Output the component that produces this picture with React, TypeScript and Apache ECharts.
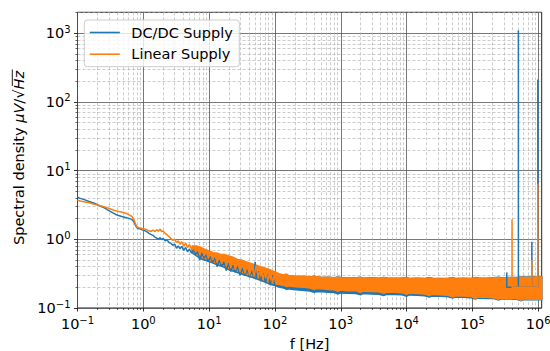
import React, { useEffect, useRef } from "react";
import * as echarts from "echarts";

const BLUE = "#1f77b4";
const ORANGE = "#ff7f0e";
const SERIES_NAMES = ["DC/DC Supply", "Linear Supply"];
const X_LABEL = "f [Hz]";

const X_MIN = 0.1;
const X_MAX = 1.13e6;
const Y_MIN = 0.1;
const Y_MAX = 2020;
const X_MAJOR = [0.1, 1, 10, 100, 1e3, 1e4, 1e5, 1e6];
const Y_MAJOR = [0.1, 1, 10, 100, 1000];

// Low-frequency part of the spectra [f, value]
const BLUE_LF: [number, number][] = [
  [0.1, 4.1], [0.11, 3.95], [0.13, 3.75], [0.15, 3.55], [0.18, 3.35], [0.2, 3.2],
  [0.23, 3.0], [0.26, 2.85], [0.3, 2.62], [0.34, 2.45], [0.38, 2.3], [0.42, 2.22],
  [0.47, 2.15], [0.52, 2.1], [0.57, 2.05], [0.62, 2.0], [0.67, 1.95], [0.72, 1.8],
  [0.76, 1.6], [0.8, 1.47], [0.85, 1.43], [0.9, 1.42], [0.95, 1.38], [1.0, 1.36],
  [1.07, 1.33], [1.14, 1.28], [1.22, 1.22], [1.3, 1.18], [1.4, 1.14], [1.5, 1.08],
  [1.6, 1.04], [1.7, 1.0], [1.8, 1.06], [1.9, 0.99], [2.0, 1.03], [2.15, 0.95],
  [2.3, 0.98], [2.45, 0.9], [2.6, 0.88], [2.8, 0.82], [3.0, 0.85], [3.2, 0.74],
  [3.4, 0.8], [3.6, 0.73], [3.85, 0.79], [4.1, 0.69], [4.4, 0.76], [4.7, 0.66],
  [5.0, 0.72], [5.4, 0.63], [5.8, 0.7], [6.2, 0.6], [6.7, 0.66], [7.2, 0.5],
  [7.8, 0.63], [8.4, 0.53], [9.0, 0.6], [9.7, 0.47], [10.5, 0.56], [11.3, 0.46],
  [12.2, 0.54], [13.2, 0.4], [14.3, 0.5], [15.5, 0.4], [16.8, 0.47], [18.2, 0.35],
  [19.7, 0.45], [21.3, 0.34], [23, 0.42], [25, 0.33], [27, 0.41], [29.5, 0.3],
  [32, 0.38], [35, 0.295], [38, 0.36], [41, 0.28], [44.5, 0.35], [48, 0.27],
  [50, 0.47], [52, 0.275], [56, 0.34], [61, 0.245], [66, 0.32], [72, 0.235],
  [78, 0.31], [85, 0.215], [92, 0.3], [100, 0.21],
];

const ORANGE_LF: [number, number][] = [
  [0.1, 3.7], [0.11, 3.62], [0.13, 3.5], [0.15, 3.4], [0.18, 3.25], [0.2, 3.15],
  [0.23, 3.05], [0.26, 2.95], [0.3, 2.82], [0.34, 2.7], [0.38, 2.6], [0.42, 2.55],
  [0.47, 2.5], [0.52, 2.42], [0.57, 2.35], [0.62, 2.25], [0.67, 2.15], [0.72, 1.95],
  [0.76, 1.68], [0.8, 1.52], [0.85, 1.48], [0.9, 1.46], [0.95, 1.44], [1.0, 1.42],
  [1.07, 1.41], [1.14, 1.37], [1.22, 1.33], [1.3, 1.3], [1.4, 1.36], [1.5, 1.3],
  [1.6, 1.38], [1.7, 1.32], [1.8, 1.4], [1.9, 1.3], [2.0, 1.32], [2.15, 1.22],
  [2.3, 1.16], [2.45, 1.1], [2.6, 1.04], [2.8, 0.97], [3.0, 1.0], [3.2, 0.9],
  [3.4, 0.95], [3.6, 0.85], [3.85, 0.92], [4.1, 0.8], [4.4, 0.88], [4.7, 0.76],
  [5.0, 0.84], [5.4, 0.72], [5.8, 0.8], [6.2, 0.66], [6.7, 0.78], [7.2, 0.6],
  [7.8, 0.74], [8.4, 0.57], [9.0, 0.7], [9.7, 0.53], [10.5, 0.66], [11.3, 0.5],
  [12.2, 0.63], [13.2, 0.46], [14.3, 0.6], [15.5, 0.44], [16.8, 0.58], [18.2, 0.41],
  [19.7, 0.56], [21.3, 0.38], [23, 0.53], [25, 0.36], [27, 0.5], [29.5, 0.34],
  [32, 0.48], [35, 0.32], [38, 0.45], [41, 0.3], [44.5, 0.43], [48, 0.29],
  [52, 0.42], [56, 0.28], [61, 0.4], [66, 0.26], [72, 0.38], [78, 0.25],
  [85, 0.36], [92, 0.235], [100, 0.33],
];

// Noise band envelopes [f, low, high]
const BLUE_BAND: [number, number, number][] = [
  [5.5, 0.64, 0.74], [6.5, 0.57, 0.74], [7.5, 0.52, 0.72], [8.5, 0.5, 0.68],
  [10, 0.475, 0.64], [11.5, 0.45, 0.6], [13, 0.43, 0.59], [15, 0.41, 0.56],
  [17, 0.39, 0.56], [20, 0.36, 0.53], [23, 0.345, 0.51], [27, 0.328, 0.48],
  [31, 0.313, 0.47], [36, 0.3, 0.44], [42, 0.285, 0.42], [48, 0.275, 0.4],
  [56, 0.26, 0.38], [65, 0.247, 0.365], [75, 0.233, 0.35], [87, 0.22, 0.335],
  [100, 0.212, 0.32], [115, 0.202, 0.305], [135, 0.196, 0.298], [150, 0.186, 0.3],
  [160, 0.19, 0.294], [190, 0.186, 0.29], [230, 0.183, 0.287], [280, 0.18, 0.288],
  [340, 0.177, 0.283], [400, 0.168, 0.29], [420, 0.174, 0.285], [520, 0.172, 0.279],
  [650, 0.17, 0.281], [800, 0.168, 0.276], [900, 0.16, 0.282], [1000, 0.166, 0.278],
  [1300, 0.164, 0.273], [1700, 0.163, 0.276], [2000, 0.156, 0.28], [2200, 0.162, 0.272],
  [2900, 0.16, 0.275], [3800, 0.159, 0.271], [4500, 0.152, 0.278], [5000, 0.158, 0.274],
  [6500, 0.157, 0.27], [8500, 0.156, 0.273], [1.0e4, 0.149, 0.277], [1.1e4, 0.155, 0.269],
  [1.45e4, 0.153, 0.272], [1.9e4, 0.151, 0.268], [2.2e4, 0.145, 0.275], [2.5e4, 0.15, 0.271],
  [3.3e4, 0.148, 0.268], [4.3e4, 0.146, 0.271], [5e4, 0.14, 0.276], [5.6e4, 0.144, 0.268],
  [7.3e4, 0.143, 0.271], [9.5e4, 0.141, 0.269], [1.1e5, 0.135, 0.277], [1.25e5, 0.14, 0.273],
  [1.6e5, 0.138, 0.271], [2.1e5, 0.137, 0.276], [2.5e5, 0.131, 0.281], [2.8e5, 0.136, 0.274],
  [3.6e5, 0.135, 0.278], [4.7e5, 0.134, 0.277], [5.5e5, 0.128, 0.285], [6.1e5, 0.133, 0.282],
  [8e5, 0.132, 0.283], [1.0e6, 0.132, 0.287], [1.13e6, 0.133, 0.285],
];

const ORANGE_BAND: [number, number, number][] = [
  [5.5, 0.68, 0.8], [6.5, 0.6, 0.8], [7.5, 0.55, 0.76], [8.5, 0.53, 0.72],
  [10, 0.5, 0.68], [11.5, 0.47, 0.64], [13, 0.45, 0.63], [15, 0.43, 0.6],
  [17, 0.41, 0.6], [20, 0.38, 0.57], [23, 0.365, 0.55], [27, 0.345, 0.51],
  [31, 0.33, 0.5], [36, 0.315, 0.47], [42, 0.3, 0.45], [48, 0.29, 0.43],
  [56, 0.275, 0.41], [65, 0.26, 0.39], [75, 0.245, 0.375], [87, 0.232, 0.355],
  [100, 0.226, 0.335], [115, 0.22, 0.315], [135, 0.215, 0.303], [150, 0.206, 0.312],
  [160, 0.21, 0.298], [190, 0.206, 0.293], [230, 0.203, 0.288], [280, 0.2, 0.29],
  [340, 0.196, 0.283], [400, 0.186, 0.292], [420, 0.193, 0.284], [520, 0.19, 0.278],
  [650, 0.186, 0.28], [800, 0.184, 0.274], [900, 0.175, 0.281], [1000, 0.182, 0.276],
  [1300, 0.179, 0.271], [1700, 0.178, 0.274], [2000, 0.169, 0.279], [2200, 0.176, 0.27],
  [2900, 0.174, 0.273], [3800, 0.172, 0.269], [4500, 0.164, 0.277], [5000, 0.17, 0.272],
  [6500, 0.169, 0.268], [8500, 0.167, 0.271], [1.0e4, 0.159, 0.276], [1.1e4, 0.165, 0.267],
  [1.45e4, 0.162, 0.27], [1.9e4, 0.16, 0.266], [2.2e4, 0.152, 0.273], [2.5e4, 0.158, 0.269],
  [3.3e4, 0.156, 0.265], [4.3e4, 0.153, 0.268], [5e4, 0.145, 0.274], [5.6e4, 0.151, 0.265],
  [7.3e4, 0.149, 0.268], [9.5e4, 0.147, 0.266], [1.1e5, 0.139, 0.275], [1.25e5, 0.145, 0.27],
  [1.6e5, 0.143, 0.268], [2.1e5, 0.141, 0.273], [2.5e5, 0.134, 0.279], [2.8e5, 0.14, 0.271],
  [3.6e5, 0.138, 0.276], [4.7e5, 0.137, 0.274], [5.5e5, 0.13, 0.283], [6.1e5, 0.136, 0.279],
  [8e5, 0.134, 0.28], [1.0e6, 0.134, 0.284], [1.13e6, 0.135, 0.282],
];

// Narrow spikes [f, peak]
const SPIKE_BASE = 0.2;
const BLUE_SPIKES: [number, number][] = [[3.33e5, 0.33], [5e5, 1110], [8e5, 0.92], [9.86e5, 213]];
const ORANGE_SPIKES: [number, number][] = [[4e5, 1.95], [8e5, 0.5], [9.86e5, 6.5]];

const FONT = "DejaVu Sans";
const FS = 14.5;

function minorValues(maxDecade: number, limit: number) {
  const out: number[] = [];
  for (let d = -1; d <= maxDecade; d++) {
    for (let k = 2; k <= 9; k++) {
      const v = k * Math.pow(10, d);
      if (v <= limit) out.push(v);
    }
  }
  return out;
}
const X_MINOR = minorValues(6, X_MAX);
const Y_MINOR = minorValues(3, Y_MAX);

function spikeData(spikes: [number, number][]) {
  const d: [number, number][] = [];
  spikes.forEach(([f, p]) => {
    d.push([f, SPIKE_BASE], [f, p], [f, SPIKE_BASE]);
  });
  return d;
}

function supLabel(v: number) {
  const e = Math.log10(v);
  const r = Math.round(e);
  if (Math.abs(e - r) > 1e-6) return "";
  return `{b|10}{s|${r < 0 ? "\u2212" + -r : r}}`;
}

const labelRich = {
  b: { fontSize: FS, lineHeight: 18, color: "#000", fontFamily: FONT, verticalAlign: "middle" },
  s: { fontSize: 10, lineHeight: 12, color: "#000", fontFamily: FONT, verticalAlign: "top" },
};

function bandSeries(name: string, band: [number, number, number][], color: string) {
  return {
    type: "custom",
    name,
    silent: true,
    clip: true,
    xAxisIndex: 0,
    yAxisIndex: 0,
    data: [[band[0][0], band[0][1]]],
    renderItem: (_params: any, api: any) => {
      const upper = band.map((r) => api.coord([r[0], r[2]]));
      const lower = band
        .slice()
        .reverse()
        .map((r) => api.coord([r[0], r[1]]));
      return {
        type: "polygon",
        shape: { points: upper.concat(lower) },
        style: { fill: color, stroke: color, lineWidth: 1.5 },
      };
    },
  };
}

function lineSeries(name: string, data: [number, number][], color: string) {
  return {
    type: "line",
    name,
    data,
    xAxisIndex: 0,
    yAxisIndex: 0,
    symbol: "none",
    showSymbol: false,
    silent: true,
    lineStyle: { color, width: 1.5 },
    itemStyle: { color },
    emphasis: { disabled: true },
  };
}

export default function App() {
  const ref = useRef<HTMLDivElement>(null);
  useEffect(() => {
    const chart = echarts.init(ref.current as HTMLDivElement, null, { renderer: "svg" });
    const option: any = {
      animation: false,
      textStyle: { fontFamily: FONT },
      grid: {
        left: 77.5,
        right: 8.3,
        top: 12.3,
        bottom: 43,
        show: true,
        borderColor: "#222",
        borderWidth: 1,
        backgroundColor: "transparent",
        containLabel: false,
        outerBoundsMode: "none",
      },
      legend: {
        orient: "vertical",
        left: 84.3,
        top: 20,
        data: SERIES_NAMES,
        icon: "rect",
        padding: [3.5, 6.5, 3.5, 5.5],
        itemGap: 3.7,
        itemWidth: 30,
        itemHeight: 1.6,
        backgroundColor: "rgba(255,255,255,0.8)",
        borderColor: "#cccccc",
        borderWidth: 1,
        borderRadius: 3,
        textStyle: { fontSize: FS, color: "#000", fontFamily: FONT, padding: [0, 0, 0, 6.5], lineHeight: 18 },
        selectedMode: false,
      },
      xAxis: [
        {
          type: "log",
          logBase: 10,
          min: X_MIN,
          max: X_MAX,
          position: "bottom",
          name: X_LABEL,
          nameLocation: "middle",
          nameGap: 24,
          nameTextStyle: { fontSize: FS, color: "#000", fontFamily: FONT },
          axisLine: { show: false },
          axisTick: { show: true, length: 3.5, customValues: X_MAJOR, lineStyle: { color: "#000", width: 0.8 } },
          axisLabel: { margin: 7, customValues: X_MAJOR, formatter: supLabel, rich: labelRich },
          splitLine: { show: true, lineStyle: { color: "#555", width: 0.8 } },
          minorTick: { show: false },
        },
        {
          type: "log",
          logBase: 10,
          min: X_MIN,
          max: X_MAX,
          position: "bottom",
          axisLine: { show: false },
          axisLabel: { show: false },
          axisTick: { show: true, length: 2, customValues: X_MINOR, lineStyle: { color: "#000", width: 0.6 } },
          splitLine: { show: true, lineStyle: { color: "#aaa", width: 0.6, type: [3, 2] } },
        },
      ],
      yAxis: [
        {
          type: "log",
          logBase: 10,
          min: Y_MIN,
          max: Y_MAX,
          position: "left",
          axisLine: { show: false },
          axisTick: { show: true, length: 3.5, customValues: Y_MAJOR, lineStyle: { color: "#000", width: 0.8 } },
          axisLabel: { margin: 7, customValues: Y_MAJOR, formatter: supLabel, rich: labelRich },
          splitLine: { show: true, lineStyle: { color: "#555", width: 0.8 } },
          minorTick: { show: false },
        },
        {
          type: "log",
          logBase: 10,
          min: Y_MIN,
          max: Y_MAX,
          position: "left",
          axisLine: { show: false },
          axisLabel: { show: false },
          axisTick: { show: true, length: 2, customValues: Y_MINOR, lineStyle: { color: "#000", width: 0.6 } },
          splitLine: { show: true, lineStyle: { color: "#aaa", width: 0.6, type: [3, 2] } },
        },
      ],
      graphic: [
        {
          type: "text",
          x: 19,
          y: 158,
          rotation: Math.PI / 2,
          silent: true,
          style: {
            text: "{a|Spectral density }{i|\u03bcV}{a|/\u221a}{i|Hz}",
            align: "center",
            verticalAlign: "middle",
            fill: "#000",
            rich: {
              a: { fontSize: FS, fontFamily: FONT, fill: "#000" },
              i: { fontSize: FS, fontFamily: FONT, fontStyle: "italic", fill: "#000" },
            },
          },
        },
        {
          type: "line",
          silent: true,
          shape: { x1: 12.3, y1: 69.5, x2: 12.3, y2: 86 },
          style: { stroke: "#000", lineWidth: 0.9 },
        },
      ],
      series: [
        lineSeries(SERIES_NAMES[0], BLUE_LF, BLUE),
        bandSeries("DC/DC band", BLUE_BAND, BLUE),
        lineSeries("DC/DC spikes", spikeData(BLUE_SPIKES), BLUE),
        lineSeries(SERIES_NAMES[1], ORANGE_LF, ORANGE),
        bandSeries("Linear band", ORANGE_BAND, ORANGE),
        lineSeries("Linear spikes", spikeData(ORANGE_SPIKES), ORANGE),
      ],
    };
    chart.setOption(option);
    return () => chart.dispose();
  }, []);
  return (
    <div
      ref={ref}
      style={{ position: "absolute", left: 0, top: 0, width: 550, height: 351 }}
    />
  );
}
